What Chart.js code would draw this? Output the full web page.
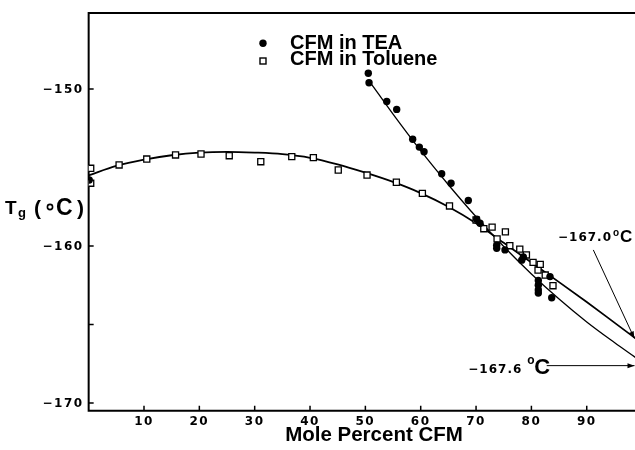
<!DOCTYPE html>
<html><head><meta charset="utf-8">
<script src="https://cdn.jsdelivr.net/npm/chart.js@4.4.1/dist/chart.umd.min.js"></script>
<style>html,body{margin:0;padding:0;background:#fff;}canvas{display:block;}</style>
</head><body>
<canvas id="c" width="635" height="450"></canvas>
<script>
// ---- data ----
const teaX = [0.1, 50.53, 50.66, 53.86, 55.66, 58.55, 59.75, 60.6, 63.79, 65.48, 68.6, 70.12, 70.72, 73.73, 73.73, 75.23, 78.25, 78.54, 81.25, 81.25, 81.25, 81.25, 83.36, 83.67];
const teaY = [-155.8, -149.0, -149.6, -150.8, -151.3, -153.2, -153.7, -154.0, -155.4, -156.0, -157.1, -158.3, -158.55, -159.95, -160.15, -160.25, -160.9, -160.7, -162.2, -162.5, -162.8, -163.0, -161.95, -163.3];
const tolX = [0.37, 0.37, 5.5, 10.5, 15.7, 20.3, 25.4, 31.1, 36.7, 40.6, 45.1, 50.3, 55.6, 60.3, 65.2, 70.0, 71.4, 72.9, 73.8, 75.3, 76.1, 77.9, 79.1, 80.3, 81.2, 81.6, 82.5, 83.9];
const tolY = [-155.05, -156.0, -154.84, -154.46, -154.2, -154.14, -154.25, -154.63, -154.31, -154.37, -155.16, -155.48, -155.94, -156.65, -157.45, -158.34, -158.9, -158.8, -159.55, -159.1, -159.98, -160.2, -160.57, -161.04, -161.53, -161.17, -161.85, -162.53];
const teaFitX = [51, 55, 60, 65, 70, 75, 80, 85, 90, 95, 98.8];
const teaFitY = [-149.64, -151.6, -153.93, -156.1, -158.14, -160.03, -161.78, -163.38, -164.84, -166.15, -167.1];
const tolFitX = [0, 5, 10, 15, 20, 25, 30, 35, 40, 45, 50, 55, 60, 65, 70, 75, 80, 85, 90, 95, 98.8];
const tolFitY = [-155.5, -154.9, -154.5, -154.22, -154.05, -154.0, -154.05, -154.15, -154.38, -154.8, -155.33, -155.92, -156.63, -157.5, -158.55, -159.8, -161.05, -162.3, -163.57, -164.88, -165.88];
const xTicks = [10, 20, 30, 40, 50, 60, 70, 80, 90];
const xTickLabels = ['10', '20', '30', '40', '50', '60', '70', '80', '90'];
const yTicks = [-150, -155, -160, -165, -170];
const yTickLabels = ['\u2212150', '', '\u2212160', '', '\u2212170'];
const seriesNames = ['CFM in TEA', 'CFM in Toluene'];
// annotations (data coordinates)
const annValues = ['\u2212167.0', '\u2212167.6'];
const annTextAt = [[84.81, -159.71], [68.6, -168.11]];
const annArrowFrom = [[91.19, -160.25], [82.77, -167.62]];
const annArrowTo = [[98.6, -165.88], [98.63, -167.62]];

const pts = (xs, ys) => xs.map((x, i) => ({x, y: ys[i]}));

const framePlugin = {
  id: 'frame',
  beforeDatasetsDraw(chart) {
    const ctx = chart.ctx, a = chart.chartArea, xs = chart.scales.x, ys = chart.scales.y;
    ctx.save();
    ctx.strokeStyle = '#000';
    ctx.lineWidth = 2;
    ctx.beginPath();
    ctx.moveTo(a.left, a.top); ctx.lineTo(a.right, a.top);
    ctx.moveTo(a.left, a.top - 1); ctx.lineTo(a.left, a.bottom);
    ctx.lineTo(a.right, a.bottom);
    ctx.stroke();
    ctx.lineWidth = 1.5;
    ctx.beginPath();
    xTicks.forEach(v => { const p = xs.getPixelForValue(v); ctx.moveTo(p, a.bottom); ctx.lineTo(p, a.bottom - 5); });
    yTicks.forEach(v => { const p = ys.getPixelForValue(v); ctx.moveTo(a.left, p); ctx.lineTo(a.left + 5, p); });
    ctx.stroke();
    // tick labels
    ctx.fillStyle = '#000';
    ctx.font = 'bold 12px "DejaVu Sans"';
    try { ctx.letterSpacing = '1.5px'; } catch (e) {}
    ctx.textAlign = 'center'; ctx.textBaseline = 'middle';
    xTicks.forEach((v, i) => ctx.fillText(xTickLabels[i], xs.getPixelForValue(v), a.bottom + 11));
    ctx.textAlign = 'right';
    yTicks.forEach((v, i) => { if (yTickLabels[i]) ctx.fillText(yTickLabels[i], a.left - 5, ys.getPixelForValue(v) + 1); });
    ctx.restore();
  },
  afterDraw(chart) {
    const ctx = chart.ctx, xs = chart.scales.x, ys = chart.scales.y;
    const X = v => xs.getPixelForValue(v), Y = v => ys.getPixelForValue(v);
    ctx.save();
    ctx.fillStyle = '#000'; ctx.strokeStyle = '#000';
    ctx.textBaseline = 'alphabetic'; ctx.textAlign = 'left';
    // legend
    ctx.beginPath(); ctx.arc(263, 43.3, 3.7, 0, Math.PI * 2); ctx.fill();
    ctx.lineWidth = 1.4; ctx.fillStyle = '#fff';
    ctx.fillRect(260, 58, 6, 6); ctx.strokeRect(260, 58, 6, 6);
    ctx.fillStyle = '#000';
    ctx.font = 'bold 20px "Liberation Sans"';
    ctx.fillText(seriesNames[0], 290, 48.5);
    ctx.fillText(seriesNames[1], 290, 65.2);
    // x title
    ctx.textAlign = 'center';
    ctx.font = 'bold 20.5px "Liberation Sans"';
    ctx.fillText('Mole Percent CFM', 374, 441);
    // y title
    ctx.textAlign = 'left';
    ctx.font = 'bold 19px "Liberation Sans"';
    ctx.fillText('T', 5, 214);
    ctx.font = 'bold 13px "Liberation Sans"';
    ctx.fillText('g', 18, 217);
    ctx.font = 'bold 21px "Liberation Sans"';
    ctx.fillText('(', 34, 215);
    ctx.beginPath(); ctx.lineWidth = 1.6; ctx.arc(50, 207, 2.6, 0, Math.PI * 2); ctx.stroke();
    ctx.font = 'bold 23px "Liberation Sans"';
    ctx.fillText('C', 56, 215);
    ctx.font = 'bold 21px "Liberation Sans"';
    ctx.fillText(')', 77, 215);
    // annotations
    const drawArrow = (f, t) => {
      const x1 = X(f[0]), y1 = Y(f[1]), x2 = X(t[0]), y2 = Y(t[1]);
      ctx.lineWidth = 1; ctx.beginPath(); ctx.moveTo(x1, y1); ctx.lineTo(x2, y2); ctx.stroke();
      const ang = Math.atan2(y2 - y1, x2 - x1), L = 7, W = 2.5;
      ctx.beginPath(); ctx.moveTo(x2, y2);
      ctx.lineTo(x2 - L * Math.cos(ang) + W * Math.sin(ang), y2 - L * Math.sin(ang) - W * Math.cos(ang));
      ctx.lineTo(x2 - L * Math.cos(ang) - W * Math.sin(ang), y2 - L * Math.sin(ang) + W * Math.cos(ang));
      ctx.closePath(); ctx.fill();
    };
    // label 1
    let tx = X(annTextAt[0][0]), ty = Y(annTextAt[0][1]);
    ctx.font = 'bold 12px "DejaVu Sans"';
    try { ctx.letterSpacing = '1px'; } catch (e) {}
    ctx.fillText(annValues[0], tx, ty);
    let w = ctx.measureText(annValues[0]).width;
    try { ctx.letterSpacing = '0px'; } catch (e) {}
    ctx.font = 'bold 10px "Liberation Sans"';
    ctx.fillText('o', tx + w + 1, ty - 5);
    ctx.font = 'bold 17px "Liberation Sans"';
    ctx.fillText('C', tx + w + 8, ty + 1);
    // label 2
    tx = X(annTextAt[1][0]); ty = Y(annTextAt[1][1]);
    ctx.font = 'bold 12px "DejaVu Sans"';
    try { ctx.letterSpacing = '1px'; } catch (e) {}
    ctx.fillText(annValues[1], tx, ty);
    w = ctx.measureText(annValues[1]).width;
    try { ctx.letterSpacing = '0px'; } catch (e) {}
    ctx.font = 'bold 12px "Liberation Sans"';
    ctx.fillText('o', tx + w + 5, ty - 9);
    ctx.font = 'bold 22px "Liberation Sans"';
    ctx.fillText('C', tx + w + 12, ty + 1);
    drawArrow(annArrowFrom[0], annArrowTo[0]);
    drawArrow(annArrowFrom[1], annArrowTo[1]);
    ctx.restore();
  }
};

new Chart(document.getElementById('c'), {
  type: 'scatter',
  data: {
    datasets: [
      {label: seriesNames[0], data: pts(teaX, teaY), pointStyle: 'circle', pointRadius: 3.7, backgroundColor: '#000', borderColor: '#000', borderWidth: 0},
      {label: seriesNames[1], data: pts(tolX, tolY), pointStyle: 'rect', pointRadius: 4.3, backgroundColor: '#fff', borderColor: '#000', borderWidth: 1.3},
      {label: 'TEA fit', data: pts(teaFitX, teaFitY), showLine: true, pointRadius: 0, borderColor: '#000', borderWidth: 1.3, cubicInterpolationMode: 'monotone', fill: false},
      {label: 'Toluene fit', data: pts(tolFitX, tolFitY), showLine: true, pointRadius: 0, borderColor: '#000', borderWidth: 1.8, cubicInterpolationMode: 'monotone', fill: false}
    ]
  },
  options: {
    responsive: false, animation: false, devicePixelRatio: 1,
    layout: {autoPadding: false, padding: {top: 13, right: 0, left: 0, bottom: 0}},
    plugins: {legend: {display: false}, tooltip: {enabled: false}},
    scales: {
      x: {type: 'linear', min: 0, max: 98.72,
          afterBuildTicks: s => { s.ticks = xTicks.map(v => ({value: v})); },
          afterFit: s => { s.height = 39.3; },
          grid: {display: false, drawTicks: false}, border: {display: false},
          ticks: {display: false}},
      y: {type: 'linear', min: -170.49, max: -145.16,
          afterBuildTicks: s => { s.ticks = yTicks.map(v => ({value: v})); },
          afterFit: s => { s.width = 88.66; },
          grid: {display: false, drawTicks: false}, border: {display: false},
          ticks: {display: false}}
    }
  },
  plugins: [framePlugin]
});
</script>
</body></html>
